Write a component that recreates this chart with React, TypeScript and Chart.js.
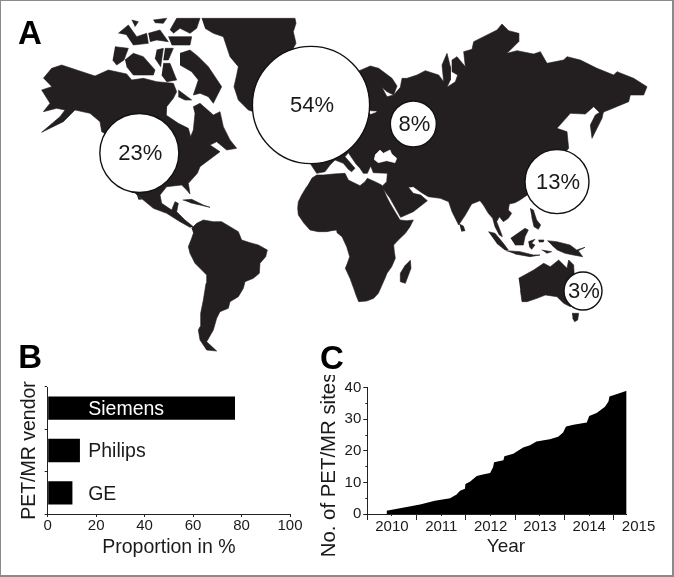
import React, { useEffect, useRef } from "react";
import { Chart, registerables } from "chart.js";

Chart.register(...registerables);

const FONT = "'Liberation Sans', Arial, sans-serif";
const INK = "#231f20";

// ---- Panel A: map outlines, in map units (1/3 of a picture pixel) ----
const greenland = [[605,55],[885,55],[888,70],[880,95],[888,130],[880,145],[870,340],[760,335],[745,330],[715,300],[702,260],[710,225],[715,200],[690,170],[670,110],[640,100],[615,85]];
const northAmerica = [[130,235],[155,205],[185,195],[230,210],[285,228],[325,210],[380,222],[395,240],[430,235],[470,245],[520,250],[530,275],[520,295],[500,320],[498,345],[535,370],[565,385],[572,410],[580,390],[585,340],[580,320],[600,310],[640,345],[660,335],[670,380],[690,420],[710,445],[680,450],[650,425],[630,435],[660,455],[640,470],[600,500],[592,520],[565,550],[570,582],[560,570],[545,555],[500,560],[480,585],[485,610],[515,630],[525,605],[535,610],[530,635],[555,660],[580,680],[570,682],[540,665],[500,640],[460,625],[430,600],[400,575],[418,459],[305,395],[300,365],[270,340],[225,330],[190,365],[125,397],[180,350],[195,330],[170,325],[130,335],[150,310],[125,270],[155,260]];
const baja = [[410,582],[425,598],[415,598]];
const cuba = [[548,600],[575,598],[610,615],[630,622],[600,615],[570,608]];
const banks = [[345,140],[385,145],[372,180],[350,195],[338,180]];
const victoria = [[375,180],[400,160],[430,170],[465,210],[460,225],[400,225],[380,200]];
const baffin = [[540,160],[570,150],[595,170],[625,200],[665,260],[640,310],[625,290],[600,280],[580,285],[595,240],[575,215],[540,195]];
const somerset = [[470,150],[490,145],[482,200],[465,175]];
const devon1 = [[495,145],[520,145],[505,180],[490,180]];
const boothia = [[490,190],[510,190],[530,240],[500,245],[485,225]];
const southampton = [[535,270],[555,285],[575,300],[555,300],[535,290]];
const ellesmere = [[510,90],[530,55],[600,55],[590,85],[570,100],[540,85],[520,100]];
const devon2 = [[505,110],[575,110],[570,135],[515,135]];
const melville = [[355,100],[385,75],[410,110],[440,100],[445,130],[400,135],[380,105]];
const arctic1 = [[395,60],[415,65],[405,80]];
const arctic2 = [[445,100],[480,90],[505,125],[470,120],[450,125]];
const arctic3 = [[460,60],[500,55],[490,70],[465,68]];
const eurasia = [[1071,215],[1111,198],[1136,205],[1176,235],[1191,258],[1181,285],[1161,275],[1146,262],[1161,290],[1181,285],[1201,262],[1206,235],[1221,235],[1251,225],[1276,212],[1316,225],[1331,245],[1326,195],[1341,160],[1351,200],[1351,240],[1341,262],[1366,245],[1373,225],[1356,215],[1356,180],[1371,170],[1396,200],[1391,155],[1416,148],[1421,125],[1461,105],[1491,90],[1506,72],[1526,92],[1556,100],[1556,125],[1521,160],[1551,152],[1601,162],[1621,155],[1641,190],[1691,180],[1701,170],[1741,180],[1791,205],[1841,225],[1851,215],[1901,235],[1941,260],[1931,285],[1891,285],[1886,305],[1826,330],[1801,340],[1781,320],[1756,342],[1711,340],[1671,385],[1701,395],[1706,445],[1660,500],[1660,550],[1582,585],[1560,600],[1545,608],[1528,612],[1525,630],[1535,640],[1525,655],[1510,665],[1498,650],[1490,665],[1502,695],[1507,710],[1498,705],[1485,680],[1478,655],[1465,640],[1450,615],[1440,602],[1415,612],[1396,645],[1376,675],[1356,635],[1346,605],[1321,595],[1285,590],[1265,578],[1240,560],[1225,562],[1240,580],[1262,585],[1282,602],[1240,635],[1202,652],[1170,595],[1145,560],[1160,545],[1162,520],[1120,518],[1112,498],[1102,520],[1090,520],[1080,505],[1068,492],[1045,458],[1035,470],[1065,505],[1055,515],[1045,508],[1030,490],[1005,480],[990,495],[975,515],[950,520],[940,505],[932,492],[1000,350]];
const kamchatka = [[1816,310],[1806,355],[1776,415],[1771,375],[1786,345],[1811,330]];
const africa = [[935,535],[950,525],[970,525],[1000,522],[1035,520],[1045,540],[1065,550],[1080,557],[1095,545],[1102,535],[1125,545],[1145,555],[1160,590],[1170,610],[1185,635],[1200,660],[1220,662],[1240,660],[1230,680],[1216,700],[1195,720],[1181,735],[1183,755],[1186,775],[1175,800],[1161,820],[1155,835],[1146,855],[1135,880],[1121,895],[1100,903],[1076,905],[1068,885],[1061,865],[1050,835],[1036,805],[1042,790],[1049,770],[1040,740],[1026,710],[1011,698],[1010,690],[995,692],[980,695],[955,695],[930,690],[912,670],[895,645],[893,625],[895,605],[905,585],[920,560]];
const madagascar = [[1231,780],[1233,805],[1216,850],[1201,845],[1201,820],[1216,795]];
const southAmerica = [[575,685],[590,670],[610,660],[640,665],[665,665],[690,680],[715,695],[725,720],[750,728],[775,735],[802,750],[797,770],[780,790],[778,820],[760,835],[735,845],[730,865],[715,890],[690,905],[685,925],[660,935],[650,955],[640,990],[620,1025],[650,1053],[620,1050],[600,1020],[595,990],[600,980],[602,940],[610,900],[618,850],[620,825],[600,805],[585,790],[570,760],[565,740],[575,715],[580,700]];
const sriLanka = [[1378,672],[1390,678],[1395,692],[1384,694]];
const sumatra = [[1465,695],[1485,700],[1510,730],[1525,750],[1515,750],[1490,730]];
const java = [[1518,752],[1560,755],[1600,765],[1620,765],[1590,770],[1545,762]];
const borneo = [[1532,715],[1575,685],[1585,690],[1575,710],[1570,735],[1545,735]];
const sulawesi = [[1585,725],[1605,718],[1595,730],[1605,735],[1595,748],[1588,740]];
const philippines = [[1590,625],[1600,630],[1610,660],[1622,675],[1615,688],[1602,680],[1595,650]];
const newGuinea = [[1642,722],[1670,725],[1710,735],[1730,750],[1755,742],[1735,752],[1748,770],[1720,765],[1695,760],[1672,750],[1655,735]];
const moluccas = [[1615,720],[1632,720],[1630,726],[1617,726]];
const timor = [[1625,750],[1655,755],[1640,760]];
const australia = [[1556,835],[1601,810],[1631,790],[1651,800],[1676,780],[1701,805],[1706,780],[1721,795],[1723,830],[1760,880],[1711,920],[1691,910],[1671,890],[1636,885],[1611,895],[1581,905],[1566,905],[1561,870]];
const tasmania = [[1716,940],[1736,940],[1733,960],[1724,965],[1718,955]];
const blackSea = [[1125,465],[1140,450],[1150,460],[1170,450],[1175,462],[1190,475],[1185,488],[1160,482],[1135,488],[1122,478]];
const lake = [[1106,333],[1129,335],[1111,342]];

const landShapes = [greenland,northAmerica,baja,cuba,banks,victoria,baffin,somerset,devon1,boothia,southampton,ellesmere,devon2,melville,arctic1,arctic2,arctic3,eurasia,kamchatka,africa,madagascar,southAmerica,sriLanka,sumatra,java,borneo,sulawesi,philippines,newGuinea,moluccas,timor,australia,tasmania];
const waterShapes = [blackSea, lake];

const shares = [54, 23, 8, 13, 3];
const shareX = [933, 418, 1240, 1671, 1749];
const shareY = [315, 459, 372, 545, 873];
const shareR = [58.6, 39.5, 23, 32, 19];

const panelNames = ["A", "B", "C"];
const panelX = [54, 55, 960];
const panelY = [133, 1104, 1107];

// ---- Panel B ----
const vendors = ["Siemens", "Philips", "GE"];
const vendorShare = [77.3, 13.3, 10.2];

// ---- Panel C ----
const siteYears = [2010.39,2010.39,2011.07,2011.37,2011.68,2011.81,2011.88,2011.98,2011.99,2012.08,2012.22,2012.32,2012.49,2012.55,2012.57,2012.76,2012.78,2012.96,2013.16,2013.30,2013.43,2013.70,2013.87,2013.97,2014.03,2014.18,2014.45,2014.50,2014.65,2014.82,2014.89,2014.91,2015.05,2015.26];
const siteCounts = [0,1,3,4.2,5,6.2,7.4,8,9.5,10.2,12,12.4,13,14.8,16.4,17,18.3,19.1,21.1,21.8,23,23.7,24.5,25.8,27.7,28.3,29,31,32,34,35.6,37.2,37.9,39];

const shapeDataset = (pts: number[][], color: string, order: number) => ({
  type: "scatter" as const,
  order,
  data: pts.map(([x, y]) => ({ x, y })),
  showLine: true,
  fill: "shape",
  backgroundColor: color,
  borderColor: color,
  borderWidth: 0.6,
  pointRadius: 0,
  tension: 0,
});

const mapLabels = {
  id: "mapLabels",
  afterDatasetsDraw(chart: any) {
    const { ctx, scales } = chart;
    ctx.save();
    ctx.fillStyle = "#1a1a1a";
    ctx.textAlign = "center";
    ctx.textBaseline = "middle";
    ctx.font = `22px ${FONT}`;
    shares.forEach((s, i) => {
      ctx.fillText(`${s}%`, scales.x.getPixelForValue(shareX[i]) + 1, scales.y.getPixelForValue(shareY[i]) + 1);
    });
    ctx.fillStyle = "#000";
    ctx.textAlign = "left";
    ctx.textBaseline = "alphabetic";
    ctx.font = `bold 33px ${FONT}`;
    panelNames.forEach((s, i) => {
      ctx.fillText(s, scales.x.getPixelForValue(panelX[i]), scales.y.getPixelForValue(panelY[i]));
    });
    ctx.restore();
  },
};

const timelineTitles = {
  id: "timelineTitles",
  afterDraw(chart: any) {
    const { ctx } = chart;
    ctx.save();
    ctx.fillStyle = "#1a1a1a";
    ctx.textAlign = "center";
    ctx.textBaseline = "middle";
    ctx.font = `19px ${FONT}`;
    ctx.fillText("Year", 191, 172);
    ctx.translate(14, 90);
    ctx.rotate(-Math.PI / 2);
    ctx.font = `20.4px ${FONT}`;
    ctx.fillText("No. of PET/MR sites", 0, 0);
    ctx.restore();
  },
};

const tickFont = { family: FONT, size: 15 };
const fix = (prop: "width" | "height", v: number) => (s: any) => {
  s[prop] = v;
  s.paddingTop = 0;
  s.paddingBottom = 0;
};

export default function App() {
  const mapRef = useRef<HTMLCanvasElement>(null);
  const barRef = useRef<HTMLCanvasElement>(null);
  const lineRef = useRef<HTMLCanvasElement>(null);

  useEffect(() => {
    const map = new Chart(mapRef.current!, {
      type: "scatter",
      data: {
        datasets: [
          ...landShapes.map((p) => shapeDataset(p, INK, 2)),
          ...waterShapes.map((p) => shapeDataset(p, "#ffffff", 1)),
          {
            type: "bubble",
            order: 0,
            data: shares.map((_, i) => ({ x: shareX[i], y: shareY[i], r: shareR[i] })),
            backgroundColor: "#ffffff",
            borderColor: "#111111",
            borderWidth: 1.4,
          },
        ] as any,
      },
      options: {
        animation: false,
        responsive: false,
        layout: { padding: 0 },
        plugins: { legend: { display: false }, tooltip: { enabled: false } },
        scales: {
          x: { type: "linear", display: false, min: 0, max: 2022 },
          y: { type: "linear", display: false, min: 0, max: 1731, reverse: true },
        },
      },
      plugins: [mapLabels],
    } as any);

    const bar = new Chart(barRef.current!, {
      type: "bar",
      data: {
        labels: vendors,
        datasets: [{ data: vendorShare, backgroundColor: "#000000", categoryPercentage: 1, barPercentage: 0.55 }],
      },
      options: {
        animation: false,
        responsive: false,
        indexAxis: "y",
        layout: { padding: { left: 17.5, top: 12, right: 30, bottom: 16 } },
        plugins: { legend: { display: false }, tooltip: { enabled: false } },
        scales: {
          x: {
            min: 0, max: 100,
            afterFit: fix("height", 45),
            border: { color: "#222", width: 1 },
            grid: { drawOnChartArea: false, tickLength: 3, color: "#222" },
            ticks: { stepSize: 20, padding: 0, maxRotation: 0, color: "#1a1a1a", font: tickFont },
            title: { display: true, text: "Proportion in %", padding: 0, color: "#1a1a1a", font: { family: FONT, size: 19.5 } },
          },
          y: {
            afterFit: fix("width", 30.2),
            border: { color: "#222", width: 1 },
            grid: { drawOnChartArea: false, tickLength: 3, color: "#222", offset: true },
            ticks: {
              mirror: true, padding: 40.5, z: 1, labelOffset: 1.5,
              color: (c: any) => (c.index === 0 ? "#ffffff" : "#1a1a1a"),
              font: { family: FONT, size: 19.5 },
            },
            title: { display: true, text: "PET/MR vendor", padding: 0, color: "#1a1a1a", font: { family: FONT, size: 19.5 } },
          },
        },
      },
    } as any);

    const line = new Chart(lineRef.current!, {
      type: "scatter",
      data: {
        datasets: [{
          data: siteYears.map((x, i) => ({ x, y: siteCounts[i] })),
          showLine: true,
          fill: "origin",
          backgroundColor: "#000000",
          borderColor: "#000000",
          borderWidth: 0,
          pointRadius: 0,
          tension: 0,
        }],
      },
      options: {
        animation: false,
        responsive: false,
        layout: { padding: { left: 0, top: 12.7, right: 47.3, bottom: 0 } },
        plugins: { legend: { display: false }, tooltip: { enabled: false } },
        scales: {
          x2: {
            type: "linear", position: "bottom", weight: 0,
            min: 2010, max: 2015.26,
            afterFit: fix("height", 0),
            border: { display: false },
            grid: { drawOnChartArea: false, tickLength: 6, color: "#222" },
            ticks: { stepSize: 1, includeBounds: false, callback: () => "", font: tickFont },
          },
          x: {
            type: "linear", position: "bottom", weight: 1,
            min: 2010, max: 2015.26,
            afterFit: fix("height", 61),
            afterBuildTicks: (s: any) => { s.ticks.push({ value: 2015.5 }); },
            border: { color: "#222", width: 1 },
            grid: {
              drawOnChartArea: false, tickLength: 2,
              tickColor: (c: any) => (c.tick && c.tick.value > 2015.26 ? "transparent" : "#222"),
            },
            ticks: {
              stepSize: 0.5, includeBounds: false, padding: 2, autoSkip: false, maxRotation: 0,
              color: "#1a1a1a", font: tickFont,
              callback: (v: number) => (v % 1 === 0.5 ? String(Math.floor(v)) : ""),
            },
          },
          y2: {
            type: "linear", position: "left", weight: 0,
            min: 0, max: 40,
            afterFit: fix("width", 0),
            border: { display: false },
            grid: { drawOnChartArea: false, tickLength: 4, color: "#222" },
            ticks: { stepSize: 10, autoSkip: false, callback: () => "", font: tickFont },
          },
          y: {
            type: "linear", position: "left", weight: 1,
            min: 0, max: 40,
            afterFit: fix("width", 52.3),
            border: { color: "#222", width: 1 },
            grid: { drawOnChartArea: false, tickLength: 2, color: "#222" },
            ticks: {
              stepSize: 5, autoSkip: false, padding: 4, color: "#1a1a1a", font: tickFont,
              callback: (v: number) => (v % 10 === 0 ? String(v) : ""),
            },
          },
        },
      },
      plugins: [timelineTitles],
    } as any);

    return () => { map.destroy(); bar.destroy(); line.destroy(); };
  }, []);

  const abs = (left: number, top: number) => ({ position: "absolute" as const, left, top, display: "block" });

  return (
    <div style={{
      position: "absolute", left: 0, top: 0, width: 674, height: 577, background: "#fff", overflow: "hidden",
    }}>
      <canvas ref={mapRef} width={794} height={697} style={abs(-60, -60)} />
      <canvas ref={barRef} width={320} height={200} style={abs(0, 375)} />
      <canvas ref={lineRef} width={359} height={200} style={abs(315, 375)} />
      <div style={{
        position: "absolute", left: 0, top: 0, width: 674, height: 577, boxSizing: "border-box",
        borderStyle: "solid", borderColor: "#8a8a8a", borderWidth: "1px 2px 2px 1px", pointerEvents: "none",
      }} />
    </div>
  );
}
